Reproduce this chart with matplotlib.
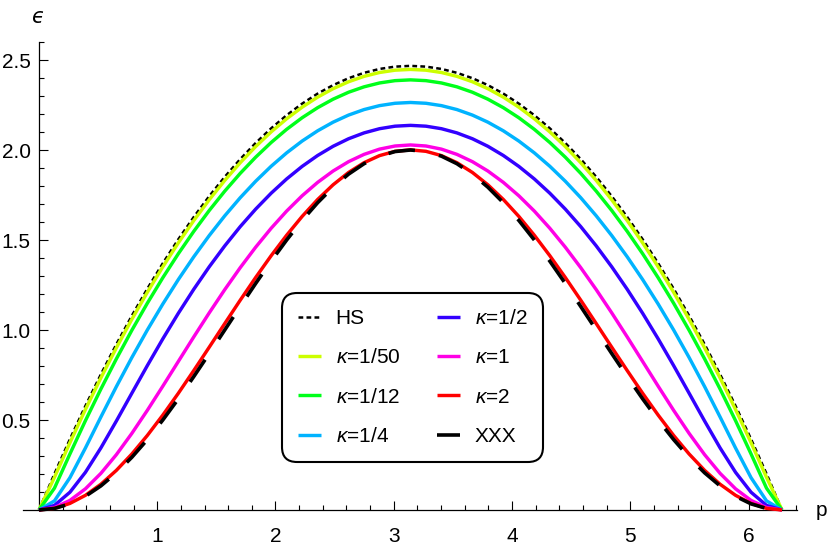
import numpy as np
import matplotlib
matplotlib.use("Agg")
import matplotlib.pyplot as plt
from matplotlib.ticker import FixedLocator, FormatStrFormatter

plt.rcParams['font.family'] = ['Liberation Sans', 'DejaVu Sans']
plt.rcParams['mathtext.fontset'] = 'custom'
plt.rcParams['mathtext.rm'] = 'Liberation Sans'
plt.rcParams['mathtext.it'] = 'Liberation Sans:italic'

# momentum samples (0 .. 2*pi)
p = np.linspace(0, 2 * np.pi, 49)

hs = [0, 0.2013, 0.3941, 0.5783, 0.7539, 0.9210, 1.0795, 1.2294, 1.3708, 1.5036, 1.6278, 1.7435, 1.8506, 1.9491,
      2.0390, 2.1204, 2.1932, 2.2575, 2.3132, 2.3603, 2.3989, 2.4288, 2.4503, 2.4631, 2.4674, 2.4631, 2.4503, 2.4288,
      2.3989, 2.3603, 2.3132, 2.2575, 2.1932, 2.1204, 2.0390, 1.9491, 1.8506, 1.7435, 1.6278, 1.5036, 1.3708, 1.2294,
      1.0795, 0.9210, 0.7539, 0.5783, 0.3941, 0.2013, 0]
k_1_50 = [0, 0.1814, 0.3741, 0.5584, 0.7340, 0.9011, 1.0596, 1.2096, 1.3510, 1.4838, 1.6080, 1.7237, 1.8308, 1.9293,
          2.0193, 2.1007, 2.1735, 2.2378, 2.2935, 2.3406, 2.3792, 2.4092, 2.4306, 2.4434, 2.4477, 2.4434, 2.4306,
          2.4092, 2.3792, 2.3406, 2.2935, 2.2378, 2.1735, 2.1007, 2.0193, 1.9293, 1.8308, 1.7237, 1.6080, 1.4838,
          1.3510, 1.2096, 1.0596, 0.9011, 0.7340, 0.5584, 0.3741, 0.1814, 0]
k_1_12 = [0, 0.1213, 0.3115, 0.4961, 0.6721, 0.8396, 0.9985, 1.1487, 1.2904, 1.4235, 1.5480, 1.6640, 1.7713, 1.8701,
          1.9602, 2.0418, 2.1148, 2.1792, 2.2350, 2.2823, 2.3209, 2.3509, 2.3724, 2.3853, 2.3896, 2.3853, 2.3724,
          2.3509, 2.3209, 2.2823, 2.2350, 2.1792, 2.1148, 2.0418, 1.9602, 1.8701, 1.7713, 1.6640, 1.5480, 1.4235,
          1.2904, 1.1487, 0.9985, 0.8396, 0.6721, 0.4961, 0.3115, 0.1213, 0]
k_1_4 = [0, 0.0507, 0.1796, 0.3443, 0.5168, 0.6856, 0.8470, 1.0000, 1.1443, 1.2799, 1.4067, 1.5248, 1.6342, 1.7348,
         1.8266, 1.9097, 1.9841, 2.0497, 2.1065, 2.1546, 2.1940, 2.2246, 2.2465, 2.2596, 2.2640, 2.2596, 2.2465,
         2.2246, 2.1940, 2.1546, 2.1065, 2.0497, 1.9841, 1.9097, 1.8266, 1.7348, 1.6342, 1.5248, 1.4067, 1.2799,
         1.1443, 1.0000, 0.8470, 0.6856, 0.5168, 0.3443, 0.1796, 0.0507, 0]
k_1_2 = [0, 0.0256, 0.0987, 0.2092, 0.3450, 0.4944, 0.6488, 0.8022, 0.9508, 1.0925, 1.2262, 1.3512, 1.4672, 1.5741,
         1.6717, 1.7601, 1.8392, 1.9089, 1.9694, 2.0206, 2.0625, 2.0950, 2.1183, 2.1323, 2.1369, 2.1323, 2.1183,
         2.0950, 2.0625, 2.0206, 1.9694, 1.9089, 1.8392, 1.7601, 1.6717, 1.5741, 1.4672, 1.3512, 1.2262, 1.0925,
         0.9508, 0.8022, 0.6488, 0.4944, 0.3450, 0.2092, 0.0987, 0.0256, 0]
k_1 = [0, 0.0135, 0.0533, 0.1176, 0.2036, 0.3075, 0.4256, 0.5536, 0.6879, 0.8249, 0.9616, 1.0953, 1.2241, 1.3461,
       1.4602, 1.5653, 1.6607, 1.7457, 1.8200, 1.8832, 1.9352, 1.9757, 2.0048, 2.0222, 2.0280, 2.0222, 2.0048,
       1.9757, 1.9352, 1.8832, 1.8200, 1.7457, 1.6607, 1.5653, 1.4602, 1.3461, 1.2241, 1.0953, 0.9616, 0.8249,
       0.6879, 0.5536, 0.4256, 0.3075, 0.2036, 0.1176, 0.0533, 0.0135, 0]
k_2 = [0, 0.0092, 0.0365, 0.0815, 0.1431, 0.2202, 0.3111, 0.4141, 0.5272, 0.6481, 0.7747, 0.9046, 1.0356, 1.1655,
       1.2919, 1.4129, 1.5265, 1.6310, 1.7249, 1.8067, 1.8752, 1.9295, 1.9688, 1.9927, 2.0006, 1.9927, 1.9688,
       1.9295, 1.8752, 1.8067, 1.7249, 1.6310, 1.5265, 1.4129, 1.2919, 1.1655, 1.0356, 0.9046, 0.7747, 0.6481,
       0.5272, 0.4141, 0.3111, 0.2202, 0.1431, 0.0815, 0.0365, 0.0092, 0]
xxx = [0, 0.0086, 0.0341, 0.0761, 0.1340, 0.2066, 0.2929, 0.3912, 0.5000, 0.6173, 0.7412, 0.8695, 1.0000, 1.1305,
       1.2588, 1.3827, 1.5000, 1.6088, 1.7071, 1.7934, 1.8660, 1.9239, 1.9659, 1.9914, 2.0000, 1.9914, 1.9659,
       1.9239, 1.8660, 1.7934, 1.7071, 1.6088, 1.5000, 1.3827, 1.2588, 1.1305, 1.0000, 0.8695, 0.7412, 0.6173,
       0.5000, 0.3912, 0.2929, 0.2066, 0.1340, 0.0761, 0.0341, 0.0086, 0]

kappa_labels = [r"$\kappa$=1/50", r"$\kappa$=1/12", r"$\kappa$=1/4", r"$\kappa$=1/2", r"$\kappa$=1", r"$\kappa$=2"]
kappa_series = [k_1_50, k_1_12, k_1_4, k_1_2, k_1, k_2]
kappa_colors = ['#ccff00', '#00ff1a', '#00b3ff', '#3300ff', '#ff00e6', '#ff0000']

x_major = [1, 2, 3, 4, 5, 6]
y_major = [0.5, 1.0, 1.5, 2.0, 2.5]

fig = plt.figure(figsize=(8.3, 5.49), dpi=100)
ax = fig.add_axes([23 / 830, 39 / 549, 774 / 830, 468 / 549])

ax.plot(p, hs, color='black', lw=1.8, dashes=(1.9, 1.3), label='HS', clip_on=False, zorder=3)
for vals, lab, col in zip(kappa_series, kappa_labels, kappa_colors):
    ax.plot(p, vals, color=col, lw=2.45, label=lab, clip_on=False, zorder=3,
            solid_capstyle='butt')
ax.plot(p, xxx, color='black', lw=2.6, dashes=(7.4, 6.8), label='XXX', clip_on=False, zorder=4)

ax.set_xlim(-0.135, 6.41)
ax.set_ylim(0, 2.6)

for s in ['top', 'right']:
    ax.spines[s].set_visible(False)
ax.spines['left'].set_position(('data', 0))
ax.spines['bottom'].set_position(('data', 0))
for s in ['left', 'bottom']:
    ax.spines[s].set_linewidth(0.9)
    ax.spines[s].set_color('black')

ax.xaxis.set_major_locator(FixedLocator(x_major))
ax.xaxis.set_minor_locator(FixedLocator([v / 10 for v in range(2, 65, 2) if v % 10 != 0]))
ax.yaxis.set_major_locator(FixedLocator(y_major))
ax.yaxis.set_minor_locator(FixedLocator([v / 10 for v in range(1, 27) if v % 5 != 0]))
ax.yaxis.set_major_formatter(FormatStrFormatter('%.1f'))
ax.xaxis.set_major_formatter(FormatStrFormatter('%d'))

ax.tick_params(axis='both', which='major', direction='in', length=6.5, width=0.8, labelsize=15, color='black')
ax.tick_params(axis='both', which='minor', direction='in', length=3.6, width=0.8, color='black')
ax.tick_params(axis='x', which='major', pad=12)
ax.tick_params(axis='y', which='major', pad=6)

fig.text(38 / 830, 1 - 23 / 549, 'ϵ', fontsize=15, family=['DejaVu Sans'], style='italic',
         ha='center', va='baseline')
fig.text(821 / 830, 1 - 516 / 549, 'p', fontsize=15, ha='center', va='baseline')

leg = ax.legend(ncol=2, loc='center', bbox_to_anchor=(412.5 / 830, 1 - 377.5 / 549),
                bbox_transform=fig.transFigure, fontsize=15, frameon=True, fancybox=True,
                framealpha=1, edgecolor='black', handlelength=1.1, handletextpad=0.72,
                columnspacing=1.75, labelspacing=0.98, borderpad=0.78)
leg.get_frame().set_linewidth(1.5)
leg.get_frame().set_boxstyle('round,pad=0,rounding_size=0.75')

fig.savefig('out.png', dpi=100)
